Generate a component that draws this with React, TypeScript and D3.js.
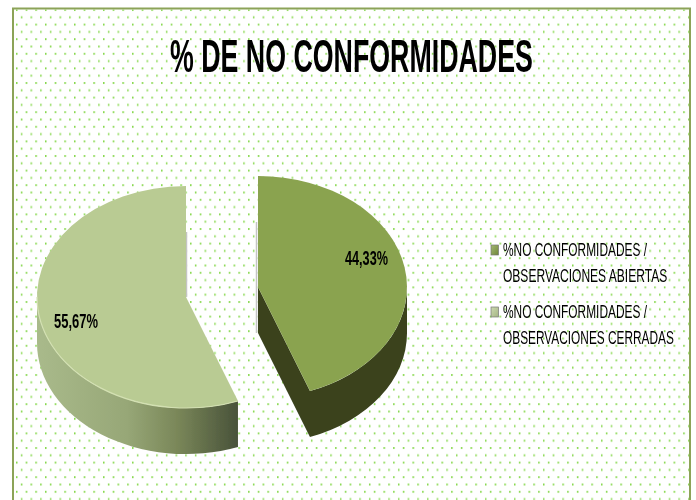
import * as d3 from "d3";

const title = "% DE NO CONFORMIDADES";
const categories = [
  ["%NO CONFORMIDADES /", "OBSERVACIONES ABIERTAS"],
  ["%NO CONFORMIDADES /", "OBSERVACIONES CERRADAS"],
];
const values = [44.33, 55.67];
const valueLabels = ["44,33%", "55,67%"];
const topColors = ["#8aa34f", "#b9cb93"];

const rx = 149;
const ry = 111;
const depth = 46;
// each slice is pulled away from the other, so each has its own centre
const centers = [
  { x: 258, y: 287 },
  { x: 186, y: 297 },
];

const pie = d3.pie<number>().sort(null);
const slices = pie(values);

const arcGen = d3.arc<d3.PieArcDatum<number>>().innerRadius(0).outerRadius(1);

// point on the ellipse, angle measured clockwise from the top
const pt = (c: { x: number; y: number }, a: number) => ({
  x: c.x + rx * Math.sin(a),
  y: c.y - ry * Math.cos(a),
});

// outer wall of a slice between two angles
const wall = (c: { x: number; y: number }, a0: number, a1: number) => {
  const p0 = pt(c, a0);
  const p1 = pt(c, a1);
  return `M${p0.x},${p0.y}A${rx},${ry} 0 0 1 ${p1.x},${p1.y}L${p1.x},${p1.y + depth}A${rx},${ry} 0 0 0 ${p0.x},${p0.y + depth}Z`;
};

const rim = (c: { x: number; y: number }, a0: number, a1: number) => {
  const p0 = pt(c, a0);
  const p1 = pt(c, a1);
  return `M${p0.x},${p0.y}A${rx},${ry} 0 0 1 ${p1.x},${p1.y}`;
};

// the original type is very condensed, so squeeze the text to the measured width
const ctx = document.createElement("canvas").getContext("2d")!;
const family = "'Liberation Sans'";

const Squeezed = ({ text, x, y, size, width, bold = false, fill = "#000" }: any) => {
  ctx.font = `${bold ? "bold " : ""}${size}px ${family}`;
  const sx = width / ctx.measureText(text).width;
  return (
    <text
      transform={`translate(${x},${y}) scale(${sx},1)`}
      fontSize={size}
      fontWeight={bold ? "bold" : "normal"}
      fontFamily={family}
      fill={fill}
    >
      {text}
    </text>
  );
};

const App = () => {
  const [green, light] = slices;
  const tip = pt(centers[0], green.endAngle);
  const c0 = centers[0];
  const c1 = centers[1];
  const leftAngle = Math.PI * 1.5;
  const cutFace = `M${c0.x},${c0.y}L${tip.x},${tip.y}L${tip.x},${tip.y + depth}L${c0.x},${c0.y + depth}Z`;

  return (
    <svg
      width={696}
      height={500}
      style={{ position: "absolute", left: 0, top: 0, background: "#fff" }}
    >
      <defs>
        <pattern id="dots" x={16} y={9} width={9.67} height={14.6} patternUnits="userSpaceOnUse">
          <rect x={0} y={0} width={1.5} height={2} fill="#86d84c" />
          <rect x={4.83} y={7.3} width={1.5} height={2} fill="#86d84c" />
        </pattern>
        <linearGradient id="wallLight" gradientUnits="userSpaceOnUse" x1={37} x2={237} y1={0} y2={0}>
          <stop offset="0" stopColor="#a9ba8b" />
          <stop offset="0.45" stopColor="#97a777" />
          <stop offset="0.7" stopColor="#7a8759" />
          <stop offset="1" stopColor="#49533a" />
        </linearGradient>
        <linearGradient id="key0" x1="0" x2="1" y1="0" y2="1">
          <stop offset="0" stopColor="#a3b873" />
          <stop offset="1" stopColor="#6f8638" />
        </linearGradient>
        <linearGradient id="key1" x1="0" x2="1" y1="0" y2="1">
          <stop offset="0" stopColor="#ccd9b0" />
          <stop offset="1" stopColor="#a3b483" />
        </linearGradient>
        <filter id="soft" filterUnits="userSpaceOnUse" x={0} y={0} width={696} height={500}>
          <feGaussianBlur stdDeviation="0.45" />
        </filter>
      </defs>

      <rect x={14} y={9.5} width={675} height={520} fill="url(#dots)" filter="url(#soft)" />
      <rect x={13} y={8.5} width={677} height={520} fill="none" stroke="#8ca358" strokeWidth={2} />

      <g filter="url(#soft)">
        {/* faint grey fringe along the straight edges */}
        <path d={`M${c0.x - 1.5},${c0.y - 65}V${c0.y + depth}`} stroke="#c4c4c4" strokeWidth={1.5} fill="none" />
        <path d={`M${c1.x + 0.5},${c1.y - 65}V${c1.y}`} stroke="#c4c4c4" strokeWidth={1.5} fill="none" />

        {/* green slice, exploded to the right */}
        <path d={cutFace + wall(c0, green.startAngle + Math.PI / 2, green.endAngle)} fill="#3a431e" />
        <path
          d={arcGen(green) ?? ""}
          transform={`translate(${c0.x},${c0.y}) scale(${rx},${ry})`}
          fill={topColors[0]}
        />

        {/* light slice */}
        <path d={wall(c1, light.startAngle, leftAngle)} fill="url(#wallLight)" />
        <path
          d={arcGen(light) ?? ""}
          transform={`translate(${c1.x},${c1.y}) scale(${rx},${ry})`}
          fill={topColors[1]}
        />
        <path d={rim(c1, light.startAngle, leftAngle)} fill="none" stroke="#d3e0b2" strokeWidth={1.2} />
      </g>

      <g filter="url(#soft)">
        <Squeezed text={title} x={170} y={72} size={47} width={363} bold />
        <Squeezed text={valueLabels[0]} x={345} y={265} size={20} width={43} bold />
        <Squeezed text={valueLabels[1]} x={54} y={328} size={20} width={44} bold />

        {categories.map((lines, i) => {
          const top = 243 + i * 62;
          return (
            <g key={i}>
              <rect x={491} y={top + 2} width={7.5} height={10} fill={`url(#key${i})`} stroke="#777" strokeWidth={0.7} />
              <Squeezed text={lines[0]} x={503} y={top + 13} size={18} width={144} fill="#000" />
              <Squeezed text={lines[1]} x={503} y={top + 39} size={18} width={i ? 171 : 165} fill="#000" />
            </g>
          );
        })}
      </g>
    </svg>
  );
};

export default App;
